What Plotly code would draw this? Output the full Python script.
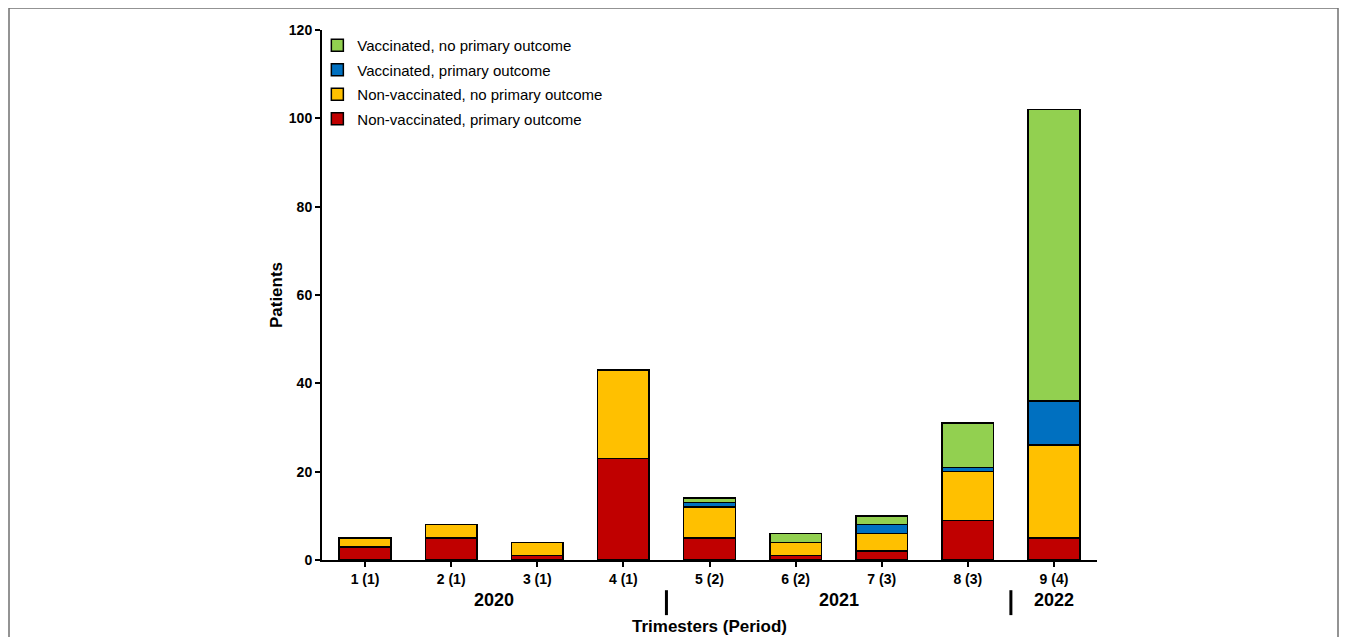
import plotly.graph_objects as go

categories = ["1 (1)", "2 (1)", "3 (1)", "4 (1)", "5 (2)", "6 (2)", "7 (3)", "8 (3)", "9 (4)"]
nonvax_primary = [3, 5, 1, 23, 5, 1, 2, 9, 5]
nonvax_noprimary = [2, 3, 3, 20, 7, 3, 4, 11, 21]
vax_primary = [0, 0, 0, 0, 1, 0, 2, 1, 10]
vax_noprimary = [0, 0, 0, 0, 1, 2, 2, 10, 66]
years = ["2020", "2021", "2022"]
year_centers = [1.5, 5.5, 8]
year_separators = [3.5, 7.5]

FONT = "Liberation Sans, Arial, sans-serif"

series = [
    ("Non-vaccinated, primary outcome", nonvax_primary, "#C00000", 4),
    ("Non-vaccinated, no primary outcome", nonvax_noprimary, "#FFC000", 3),
    ("Vaccinated, primary outcome", vax_primary, "#0070C0", 2),
    ("Vaccinated, no primary outcome", vax_noprimary, "#92D050", 1),
]

x_idx = list(range(len(categories)))
fig = go.Figure()
for i, (name, vals, col, rank) in enumerate(series):
    fig.add_trace(go.Bar(
        x=x_idx, y=vals, name=name, legendgroup=f"g{i}", legendrank=rank,
        marker=dict(color=col, line=dict(color="black", width=1.5)),
        width=0.6,
    ))

annotations = []
for yr, c in zip(years, year_centers):
    annotations.append(dict(x=c, xref="x", y=-0.075, yref="paper", text=yr, showarrow=False,
                            font=dict(family=FONT, size=18, color="black", weight="bold"),
                            xanchor="center", yanchor="middle"))
annotations.append(dict(x=0.5, xref="paper", y=-0.125, yref="paper", text="Trimesters (Period)",
                        showarrow=False, font=dict(family=FONT, size=17, color="black", weight="bold"),
                        xanchor="center", yanchor="middle"))

shapes = []
for s in year_separators:
    shapes.append(dict(type="line", x0=s, x1=s, xref="x", y0=-0.057, y1=-0.104, yref="paper",
                       line=dict(color="black", width=3)))
# outer frame
shapes.append(dict(type="rect", xref="paper", yref="paper",
                   x0=(9 - 322) / 775, x1=(1338 - 322) / 775,
                   y0=(560 - 700) / 530, y1=(560 - 8) / 530,
                   line=dict(color="#707070", width=1.5), fillcolor="rgba(0,0,0,0)", layer="below"))

fig.update_layout(
    width=1339, height=629,
    margin=dict(l=314, r=250, t=22, b=77),
    barmode="stack",
    plot_bgcolor="white", paper_bgcolor="white",
    font=dict(family=FONT, color="black"),
    showlegend=True,
    legend=dict(x=-0.006, y=1.002, xanchor="left", yanchor="top",
                traceorder="grouped", tracegroupgap=2,
                font=dict(family=FONT, size=15, color="black"),
                bgcolor="rgba(0,0,0,0)", itemwidth=30),
    xaxis=dict(tickmode="array", tickvals=x_idx, ticktext=categories,
               range=[-0.5, 8.5], showline=True, linecolor="black", linewidth=2,
               ticks="outside", tickson="boundaries", ticklen=5, tickwidth=1.5, tickcolor="black",
               tickfont=dict(family=FONT, size=14, color="black", weight="bold"),
               showgrid=False, zeroline=False),
    yaxis=dict(range=[0, 120], dtick=20, showline=True, linecolor="black", linewidth=2,
               ticks="outside", ticklen=5, tickwidth=1.5, tickcolor="black",
               tickfont=dict(family=FONT, size=14, color="black", weight="bold"),
               showgrid=False, zeroline=False,
               title=dict(text="Patients", font=dict(family=FONT, size=17, color="black", weight="bold"),
                          standoff=2)),
    annotations=annotations,
    shapes=shapes,
)

fig.write_html("out.html")
